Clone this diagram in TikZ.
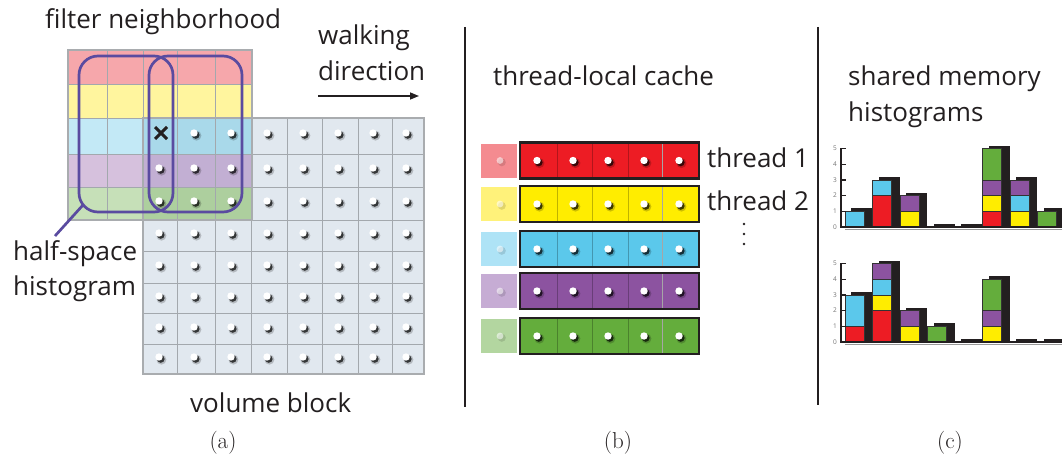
\documentclass[tikz,border=0pt]{standalone}
\usepackage{fontspec}
\newfontfamily\lbl{Open Sans}
\usetikzlibrary{arrows.meta}
\definecolor{textc}{HTML}{231F20}
\definecolor{fred}{HTML}{F6A7AB}
\definecolor{fyel}{HTML}{FFF59E}
\definecolor{fcya}{HTML}{C3E9F6}
\definecolor{ocya}{HTML}{A9D9EA}
\definecolor{fpur}{HTML}{D6C1DD}
\definecolor{opur}{HTML}{C2AFD3}
\definecolor{fgrn}{HTML}{C6E0B8}
\definecolor{ogrn}{HTML}{ADCF9E}
\definecolor{volc}{HTML}{E1E8EF}
\definecolor{gridc}{HTML}{A3A8AD}
\definecolor{borderc}{HTML}{A9ACAF}
\definecolor{ringc}{HTML}{5A4BA0}
\definecolor{cred}{HTML}{ED1C24}
\definecolor{cyel}{HTML}{FFED00}
\definecolor{ccya}{HTML}{5BC8EB}
\definecolor{cpur}{HTML}{8C53A0}
\definecolor{cgrn}{HTML}{64AD3C}
\definecolor{pred}{HTML}{F48B90}
\definecolor{pyel}{HTML}{FFF27A}
\definecolor{pcya}{HTML}{AEE3F6}
\definecolor{ppur}{HTML}{C6ACD4}
\definecolor{pgrn}{HTML}{B3D6A0}
\definecolor{segc}{HTML}{333333}
\tikzset{
  txt/.style={font=\lbl\fontsize{26}{30}\selectfont, text=textc, inner sep=0pt, anchor=base west},
  subcap/.style={font=\fontsize{23}{28}\selectfont, text=textc, inner sep=0pt},
  ticklbl/.style={font=\lbl\fontsize{6.5}{7}\selectfont, text=black!55, inner sep=0pt},
  wdot/.pic={
    \fill[black,opacity=.20] (2.4,2.6) circle (5pt);
    \fill[black,opacity=.70] (1.8,2.0) circle (3.8pt);
    \fill[white] (0,0) circle (3.7pt);
  },
  ring/.style={draw=ringc, line width=2.7pt, rounded corners=19pt},
}
\newcommand\hshadows[2]{\foreach \bx/\bh in {#2} {\fill[textc] (\bx+6,#1) rectangle (\bx+27,#1-\bh*15.7-3);}}
\newcommand\hsegs[2]{\foreach \bx/\sc/\sa/\sb in {#2} {\filldraw[fill=\sc,draw=segc,line width=.6pt] (\bx,#1-\sa*15.7) rectangle (\bx+19,#1-\sb*15.7);}}
\newcommand\haxis[1]{%
  \draw[line width=1.5pt,textc] (841,#1) -- (1062,#1);
  \draw[black!40,line width=.8pt] (845,#1+2) -- (1062,#1+2);
  \draw[line width=1.8pt,textc] (841,#1+0.5) -- (841,#1-5*15.7-1);
  \foreach \i in {0,...,5} {
    \draw[line width=1.2pt,textc] (841,#1-\i*15.7) -- (846,#1-\i*15.7);
    \node[ticklbl] at (835,#1-\i*15.7) {\i};
  }}
\begin{document}
\begin{tikzpicture}[x=1pt,y=-1pt]
\useasboundingbox (0,0) rectangle (1062,460);
% ---------------- panel (a)
\fill[volc] (143,118) rectangle (424,374);
\fill[fred] (68,50) rectangle (252,84);
\fill[fyel] (68,84) rectangle (252,118);
\fill[fcya] (68,118) rectangle (143,154);
\fill[ocya] (143,118) rectangle (252,154);
\fill[fpur] (68,154) rectangle (143,187);
\fill[opur] (143,154) rectangle (252,187);
\fill[fgrn] (68,187) rectangle (143,220);
\fill[ogrn] (143,187) rectangle (252,220);
\begin{scope}[gridc, line width=.7pt]
\foreach \x in {107,143,177,215} \draw (\x,50) -- (\x,220);
\foreach \y in {84,118,154,187} \draw (68,\y) -- (252,\y);
\foreach \x in {177,215,251,287,322,358,392} \draw (\x,118) -- (\x,374);
\foreach \y in {154,187,220,251,283,313,344} \draw (143,\y) -- (424,\y);
\end{scope}
\draw[borderc, line width=2pt] (68,50) rectangle (252,220);
\draw[borderc, line width=2.5pt] (143,118) rectangle (424,374);
\foreach \x [count=\i] in {159,194,231,267,303,338,373,406}
  \foreach \y [count=\j] in {133,168,201,233,265,296,327,357}
    {\ifnum\i\j=11 \else \pic at (\x,\y) {wdot};\fi}
\draw[textc, line width=3pt] (155,127) -- (167,139) (155,139) -- (167,127);
\draw[ring] (79,56) rectangle (173,212);
\draw[ring] (149,56) rectangle (242,212);
\coordinate (lead1) at (83,205);
\coordinate (lead2) at (55,236);
\draw[ringc, line width=2.7pt] (lead1) -- (lead2);
\node[txt] (filt) at (45,29) {filter neighborhood};
\node[txt] (walk1) at (318,45) {walking};
\node[txt] (walk2) at (318,80) {direction};
\coordinate (wa) at (318,96);
\coordinate (wb) at (419,96);
\draw[textc, line width=1.5pt, -{Triangle[length=9pt,width=7pt]}] (wa) -- (wb);
\node[txt] (half1) at (13,260) {half-space};
\node[txt] (half2) at (13,295) {histogram};
\node[txt] (vol) at (190,412) {volume block};
\node[subcap] (capa) at (223,443) {(a)};
% separators
\draw[textc, line width=1.5pt] (465,27) -- (465,407);
\draw[textc, line width=1.5pt] (818,27) -- (818,405);
% ---------------- panel (b)
\node[txt] (cache) at (493,85) {thread-local cache};
\foreach \yc/\pc/\cc in {160.5/pred/cred, 204/pyel/cyel, 249/pcya/ccya, 291/ppur/cpur, 336/pgrn/cgrn} {
  \fill[\pc] (481,\yc-17) rectangle (517,\yc+17);
  \fill[black,opacity=.12] (501.8,\yc+1.8) circle (4pt);
  \fill[white,opacity=.55] (500,\yc) circle (3.4pt);
  \fill[\cc] (520,\yc-18) rectangle (699,\yc+18);
  \foreach \dx in {557,592,628} \draw[\cc!75!black, line width=.6pt] (\dx,\yc-18) -- (\dx,\yc+18);
  \draw[black!35, line width=.8pt] (662,\yc-18) -- (662,\yc+18);
  \foreach \dx in {537,573,608,644,679} \pic at (\dx,\yc) {wdot};
  \draw[textc, line width=2.4pt] (520,\yc-18) rectangle (699,\yc+18);
}
\node[txt] (t1) at (707,167) {thread 1};
\node[txt] (t2) at (707,210) {thread 2};
\fill[textc] (744,224) circle (1.4pt) (744,234) circle (1.4pt) (744,244) circle (1.4pt);
\node[subcap] (capb) at (618,443) {(b)};
% ---------------- panel (c)
\node[txt] (sh1) at (848,85) {shared memory};
\node[txt] (sh2) at (848,121) {histograms};
\hshadows{227}{845/1, 872.5/3, 900/2, 927.5/0, 955/0, 982.5/5, 1010/3, 1037.5/1}
\hsegs{227}{845/ccya/0/1, 872.5/cred/0/2, 872.5/ccya/2/3, 900/cyel/0/1, 900/cpur/1/2,
  982.5/cred/0/1, 982.5/cyel/1/2, 982.5/cpur/2/3, 982.5/cgrn/3/5,
  1010/cyel/0/1, 1010/ccya/1/2, 1010/cpur/2/3, 1037.5/cgrn/0/1}
\haxis{227}
\hshadows{342}{845/3, 872.5/5, 900/2, 927.5/1, 955/0, 982.5/4, 1010/0, 1037.5/0}
\hsegs{342}{845/cred/0/1, 845/ccya/1/3, 872.5/cred/0/2, 872.5/cyel/2/3, 872.5/ccya/3/4, 872.5/cpur/4/5,
  900/cyel/0/1, 900/cpur/1/2, 927.5/cgrn/0/1,
  982.5/cyel/0/1, 982.5/cpur/1/2, 982.5/cgrn/2/4}
\haxis{342}
\node[subcap] (capc) at (950,443) {(c)};
\end{tikzpicture}
\end{document}
